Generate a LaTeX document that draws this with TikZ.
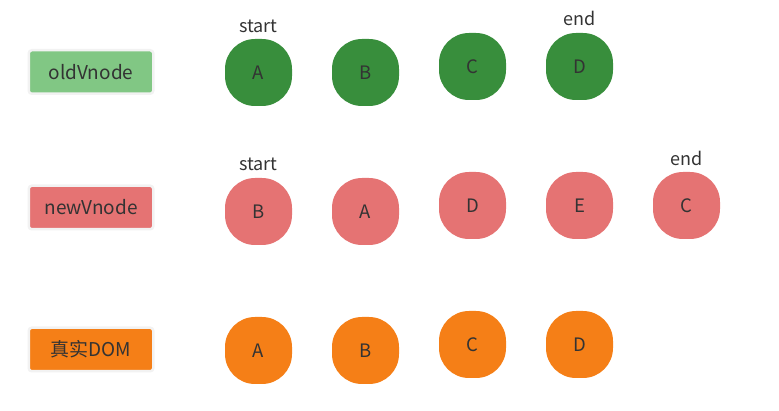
\documentclass[tikz,border=0pt]{standalone}
\usepackage{fontspec}
\setmainfont{Noto Sans CJK SC}
\usepackage{xcolor}
\usepackage{tikz}
\usetikzlibrary{positioning}

\begin{document}
\begin{tikzpicture}[x=1pt,y=-1pt]
	\definecolor{oldgreen}{RGB}{56,142,60}
	\definecolor{boxgreen}{RGB}{129,199,132}
	\definecolor{newred}{RGB}{229,115,115}
	\definecolor{domorange}{RGB}{245,127,23}
	\definecolor{txtgray}{RGB}{51,51,51}
	\tikzset{
		vnode/.style={
			rectangle, rounded corners=30pt, draw=none,
			minimum size=67pt, inner sep=0pt,
			font=\fontsize{18.5}{21}\selectfont, text=txtgray
		},
		rowbox/.style={
			rectangle, rounded corners=3pt,
			draw=black!5, line width=2.5pt,
			minimum width=124.5pt, minimum height=43.5pt, inner sep=0pt,
			font=\fontsize{19}{22}\selectfont, text=txtgray
		},
		ptr/.style={
			inner sep=0pt, anchor=south,
			font=\fontsize{18}{21}\selectfont, text=txtgray
		}
	}
	\useasboundingbox (0,0) rectangle (779,411);

	% ======= oldVnode =======
	\node[rowbox, fill=boxgreen] (old) at (91,72) {oldVnode};
	\node[vnode, fill=oldgreen] (oa) at (258.5,72.5) {A};
	\node[vnode, fill=oldgreen] (ob) at (365.5,72.5) {B};
	\node[vnode, fill=oldgreen] (oc) at (472.5,66.5) {C};
	\node[vnode, fill=oldgreen] (od) at (579.5,66.5) {D};
	\node[ptr, above=6pt of oa] (ostart) {start};
	\node[ptr, above=7pt of od] (oend) {end};

	% ======= newVnode =======
	\node[rowbox, fill=newred] (new) at (91,207.5) {newVnode};
	\node[vnode, fill=newred] (nb) at (258.5,211.5) {B};
	\node[vnode, fill=newred] (na) at (365.5,211.5) {A};
	\node[vnode, fill=newred] (nd) at (472.5,205.5) {D};
	\node[vnode, fill=newred] (ne) at (579.5,205.5) {E};
	\node[vnode, fill=newred] (nc) at (686.5,205.5) {C};
	\node[ptr, above=7pt of nb] (nstart) {start};
	\node[ptr, above=6pt of nc] (nend) {end};

	% ======= 真实DOM =======
	\node[rowbox, fill=domorange] (dom) at (91,349.5) {真实DOM};
	\node[vnode, fill=domorange] (ra) at (258.5,350.5) {A};
	\node[vnode, fill=domorange] (rb) at (365.5,350.5) {B};
	\node[vnode, fill=domorange] (rc) at (472.5,344.5) {C};
	\node[vnode, fill=domorange] (rd) at (579.5,344.5) {D};

\end{tikzpicture}
\end{document}
